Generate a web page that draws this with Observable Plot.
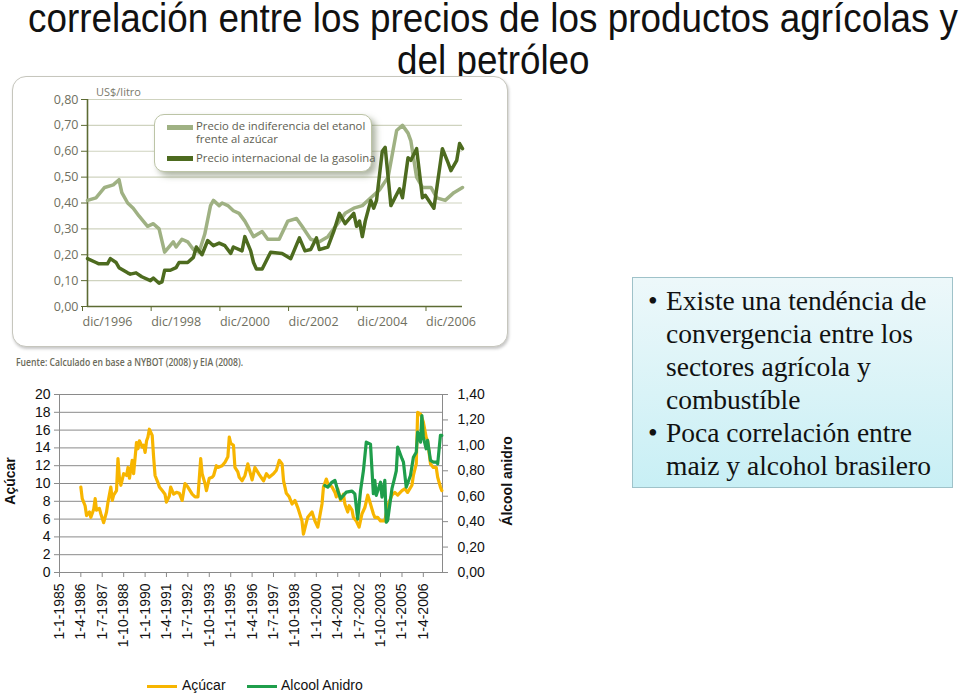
<!DOCTYPE html>
<html><head><meta charset="utf-8">
<script src="https://cdn.jsdelivr.net/npm/d3@7"></script>
<script src="https://cdn.jsdelivr.net/npm/@observablehq/plot@0.6"></script>
<style>
body{margin:0;background:#fff;}
#page{position:relative;width:960px;height:697px;overflow:hidden;font-family:"Liberation Sans",Arial,sans-serif;background:#fff;}
.abs{position:absolute;}
.tline{position:absolute;white-space:nowrap;font-size:40px;line-height:42px;color:#111;transform-origin:left top;}
#topbox{left:12px;top:76px;width:494px;height:269px;border:1.5px solid #c6c6bd;border-radius:14px;background:#fff;box-shadow:1px 2px 3px rgba(0,0,0,0.22);z-index:2;}
#topchart{left:0;top:80px;z-index:3;}
#unit{left:96px;top:84px;font-family:"Open Sans",sans-serif;font-size:11px;color:#7a7a6c;z-index:4;}
#leg1{left:154px;top:114px;width:216px;height:56px;border:1.5px solid #bcc4a6;border-radius:10px;background:#fff;box-shadow:4px 4px 6px rgba(105,118,85,0.55);z-index:4;font-family:"Open Sans",sans-serif;font-size:11.3px;color:#5e5e52;}
#leg1 .sw{position:absolute;left:12px;width:26px;height:5px;}
#leg1 .tx{position:absolute;left:41px;white-space:nowrap;line-height:13px;}
#source{left:16px;top:355px;font-family:"Open Sans",sans-serif;font-weight:600;font-size:10px;color:#6a6a5a;white-space:nowrap;transform-origin:left top;}
#botchart{left:0;top:380px;}
.vlab{position:absolute;font-weight:bold;font-size:14px;color:#111;white-space:nowrap;transform:translate(-50%,-50%) rotate(-90deg);}
#leg2{left:0;top:676px;width:600px;height:20px;font-size:14px;color:#111;}
#leg2 .sw{position:absolute;top:9px;width:30px;height:3px;}
#leg2 .tx{position:absolute;top:1px;white-space:nowrap;}
#note{left:632px;top:277px;width:319px;height:209px;border:1px solid #9fc2c9;background:linear-gradient(to bottom,#edf8fa 0%,#d9f3f7 55%,#c8eff5 100%);}
#note ul{list-style:none;margin:0;padding:6px 0 0 33px;font-family:"Liberation Serif","Times New Roman",serif;font-size:27.5px;line-height:33px;color:#111;}
#note li{position:relative;}
#note li::before{content:"•";position:absolute;left:-18px;}
</style></head><body>
<div id="page">
  <div class="tline" id="t1">correlación entre los precios de los productos agrícolas y</div>
  <div class="tline" id="t2">del petróleo</div>
  <div class="abs" id="topbox"></div>
  <div class="abs" id="topchart"></div>
  <div class="abs" id="unit">US$/litro</div>
  <div class="abs" id="leg1">
    <div class="sw" style="top:10px;background:#9fb183"></div>
    <div class="tx" style="top:4px">Precio de indiferencia del etanol<br>frente al azúcar</div>
    <div class="sw" style="top:41px;background:#4d6b1f"></div>
    <div class="tx" style="top:36px">Precio internacional de la gasolina</div>
  </div>
  <div class="abs" id="source">Fuente: Calculado en base a NYBOT (2008) y EIA (2008).</div>
  <div class="abs" id="botchart"></div>
  <div class="vlab" style="left:10px;top:481px">Açúcar</div>
  <div class="vlab" style="left:507px;top:481px">Álcool anidro</div>
  <div class="abs" id="leg2">
    <div class="sw" style="left:147px;background:#f7b500"></div>
    <div class="tx" style="left:182px">Açúcar</div>
    <div class="sw" style="left:247px;background:#1f9e4b"></div>
    <div class="tx" style="left:281px">Alcool Anidro</div>
  </div>
  <div class="abs" id="note">
    <ul>
      <li>Existe una tendéncia de<br>convergencia entre los<br>sectores agrícola y<br>combustíble</li>
      <li>Poca correlación entre<br>maiz y alcohol brasilero</li>
    </ul>
  </div>
</div>
<script>
// ---------- Upper chart data (US$/litro) ----------
const indiferenciaEtanol = [
 ["1996-12",0.41],["1997-03",0.42],["1997-06",0.46],["1997-09",0.47],["1997-11",0.49],["1997-12",0.44],
 ["1998-02",0.40],["1998-04",0.38],["1998-06",0.35],["1998-09",0.31],["1998-11",0.32],["1999-01",0.30],
 ["1999-03",0.21],["1999-06",0.25],["1999-07",0.23],["1999-09",0.26],["1999-11",0.25],["2000-01",0.22],
 ["2000-03",0.21],["2000-05",0.28],["2000-07",0.39],["2000-08",0.41],["2000-10",0.39],["2000-11",0.40],
 ["2001-01",0.39],["2001-03",0.37],["2001-05",0.36],["2001-07",0.33],["2001-10",0.27],["2002-01",0.29],
 ["2002-03",0.26],["2002-07",0.26],["2002-10",0.33],["2003-01",0.34],["2003-03",0.31],["2003-06",0.26],
 ["2003-09",0.25],["2003-12",0.27],["2004-02",0.30],["2004-06",0.36],["2004-09",0.38],["2004-12",0.39],
 ["2005-03",0.42],["2005-06",0.45],["2005-09",0.50],["2005-12",0.68],["2006-02",0.70],["2006-04",0.67],
 ["2006-05",0.64],["2006-07",0.50],["2006-09",0.46],["2006-12",0.46],["2007-02",0.42],["2007-05",0.41],
 ["2007-08",0.44],["2007-11",0.46]
];
const gasolinaInternacional = [
 ["1996-12",0.185],["1997-03",0.17],["1997-04",0.165],["1997-07",0.165],["1997-08",0.185],["1997-10",0.17],
 ["1997-11",0.15],["1998-02",0.13],["1998-03",0.125],["1998-05",0.13],["1998-07",0.115],["1998-10",0.10],
 ["1998-11",0.11],["1999-01",0.09],["1999-02",0.095],["1999-03",0.14],["1999-05",0.14],["1999-07",0.15],
 ["1999-08",0.17],["1999-11",0.17],["2000-01",0.19],["2000-02",0.23],["2000-04",0.20],["2000-06",0.255],
 ["2000-08",0.235],["2000-10",0.245],["2000-12",0.235],["2001-02",0.205],["2001-03",0.23],["2001-06",0.215],
 ["2001-07",0.27],["2001-09",0.215],["2001-10",0.17],["2001-11",0.145],["2002-01",0.145],["2002-04",0.21],
 ["2002-08",0.205],["2002-11",0.185],["2003-02",0.265],["2003-04",0.215],["2003-06",0.22],["2003-08",0.265],
 ["2003-09",0.22],["2003-12",0.23],["2004-02",0.29],["2004-04",0.36],["2004-06",0.32],["2004-09",0.36],
 ["2004-10",0.31],["2004-11",0.33],["2004-12",0.27],["2005-01",0.33],["2005-03",0.41],["2005-04",0.38],
 ["2005-05",0.41],["2005-07",0.60],["2005-08",0.615],["2005-10",0.39],["2006-01",0.455],["2006-02",0.42],
 ["2006-04",0.575],["2006-05",0.565],["2006-07",0.61],["2006-09",0.42],["2006-10",0.43],["2007-01",0.38],
 ["2007-04",0.61],["2007-06",0.555],["2007-07",0.525],["2007-09",0.565],["2007-10",0.63],["2007-11",0.61]
];
const topYTicks = [0,0.1,0.2,0.3,0.4,0.5,0.6,0.7,0.8];
const topXTicks = ["1996-12","1998-12","2000-12","2002-12","2004-12","2006-12"];
const topXLabels = ["dic/1996","dic/1998","dic/2000","dic/2002","dic/2004","dic/2006"];

// ---------- Lower chart data ----------
const acucar = [
 ["1986-04",9.6],["1986-05",8.3],["1986-07",7.5],["1986-08",6.4],["1986-10",6.8],["1986-11",6.2],["1987-01",7.1],
 ["1987-02",8.3],["1987-03",7.0],["1987-05",7.2],["1987-06",6.6],["1987-08",5.6],["1987-10",6.8],["1987-11",7.9],
 ["1988-01",9.6],["1988-02",8.1],["1988-03",8.7],["1988-05",9.2],["1988-06",12.8],["1988-07",10.7],["1988-08",9.8],
 ["1988-10",11.1],["1988-12",10.9],["1989-01",11.8],["1989-02",10.6],["1989-04",12.6],["1989-05",11.1],["1989-07",14.6],
 ["1989-08",13.9],["1989-09",14.8],["1989-11",14.1],["1989-12",14.3],["1990-01",13.5],["1990-02",14.8],["1990-03",15.2],
 ["1990-04",16.1],["1990-06",15.4],["1990-07",13.0],["1990-08",10.9],["1990-10",10.1],["1990-11",9.6],["1991-01",9.2],
 ["1991-03",8.8],["1991-04",7.9],["1991-06",8.6],["1991-07",9.6],["1991-09",8.8],["1991-11",9.0],["1992-01",8.9],
 ["1992-03",8.1],["1992-05",10.0],["1992-07",9.6],["1992-10",8.8],["1992-12",8.5],["1993-02",8.5],["1993-04",12.8],
 ["1993-05",11.1],["1993-07",10.0],["1993-08",9.2],["1993-10",10.6],["1993-12",10.7],["1994-01",10.9],["1994-03",12.0],
 ["1994-04",11.8],["1994-07",12.0],["1994-09",12.4],["1994-11",13.0],["1994-12",15.2],["1995-01",14.5],["1995-03",14.3],
 ["1995-04",11.8],["1995-06",11.3],["1995-07",10.7],["1995-09",10.3],["1995-11",10.9],["1996-01",12.2],["1996-03",11.0],
 ["1996-04",10.4],["1996-06",11.8],["1996-09",11.0],["1996-12",10.3],["1997-02",11.1],["1997-04",10.7],["1997-07",11.1],
 ["1997-09",11.5],["1997-11",12.6],["1998-01",12.2],["1998-02",10.3],["1998-04",8.9],["1998-06",8.5],["1998-08",7.7],
 ["1998-10",8.1],["1998-12",7.3],["1999-03",5.8],["1999-04",4.3],["1999-06",5.6],["1999-07",6.2],["1999-10",6.8],
 ["1999-12",5.8],["2000-02",5.1],["2000-05",7.7],["2000-06",9.6],["2000-08",10.5],["2000-09",10.0],["2000-12",9.6],
 ["2001-02",9.0],["2001-03",8.5],["2001-04",9.4],["2001-06",8.1],["2001-08",8.8],["2001-09",7.7],["2001-11",6.8],
 ["2001-12",7.5],["2002-02",7.0],["2002-03",6.2],["2002-05",5.8],["2002-07",5.1],["2002-09",6.6],["2002-11",7.3],
 ["2003-01",8.7],["2003-03",7.7],["2003-05",6.6],["2003-06",6.2],["2003-08",6.2],["2003-10",5.8],["2004-01",5.8],
 ["2004-03",7.5],["2004-06",8.7],["2004-08",9.0],["2004-10",8.7],["2005-01",9.2],["2005-03",9.4],["2005-05",9.0],
 ["2005-08",9.8],["2005-09",10.9],["2005-11",12.2],["2005-12",18.0],["2006-02",17.8],["2006-04",16.9],["2006-06",15.2],
 ["2006-07",14.8],["2006-09",12.2],["2006-11",11.8],["2007-01",11.8],["2007-02",10.7],["2007-04",9.6],["2007-05",9.2]
];
const alcoolAnidro = [
 ["2000-07",0.684],["2000-09",0.671],["2000-12",0.711],["2001-02",0.724],["2001-04",0.645],["2001-06",0.58],
 ["2001-08",0.606],["2001-10",0.632],["2002-02",0.64],["2002-04",0.619],["2002-06",0.42],["2002-08",0.645],
 ["2002-10",0.80],["2002-12",1.025],["2003-03",1.01],["2003-05",0.62],["2003-06",0.724],["2003-07",0.606],
 ["2003-10",0.71],["2003-11",0.593],["2004-01",0.724],["2004-02",0.396],["2004-03",0.409],["2004-06",0.659],
 ["2004-08",0.75],["2004-09",0.80],["2004-10",0.986],["2005-01",0.895],["2005-02",0.868],["2005-04",0.671],
 ["2005-07",0.763],["2005-09",0.907],["2005-11",0.946],["2005-12",1.104],["2006-02",1.025],["2006-03",1.235],
 ["2006-04",1.065],["2006-06",0.973],["2006-07",1.039],["2006-09",0.881],["2006-11",0.868],["2007-01",0.868],
 ["2007-02",0.855],["2007-04",1.078],["2007-05",1.078]
];
const acucarTicks = [0,2,4,6,8,10,12,14,16,18,20];
const alcoolTicks = [0,0.2,0.4,0.6,0.8,1.0,1.2,1.4];
const xTickLabels = ["1-1-1985","1-4-1986","1-7-1987","1-10-1988","1-1-1990","1-4-1991","1-7-1992","1-10-1993","1-1-1995",
 "1-4-1996","1-7-1997","1-10-1998","1-1-2000","1-4-2001","1-7-2002","1-10-2003","1-1-2005","1-4-2006"];

(function () {
const pm = d3.utcParse("%Y-%m");
const pd = d3.utcParse("%d-%m-%Y");
const comma = d => d.toFixed(2).replace(".", ",");

// ---------- Upper chart ----------
const olive = "#5d6b33";
const topLabelMap = new Map(topXTicks.map((m, i) => [+pm(m), topXLabels[i]]));
const etanol = indiferenciaEtanol.map(([m, v]) => ({date: pm(m), value: v}));
const gasolina = gasolinaInternacional.map(([m, v]) => ({date: pm(m), value: v}));
const upperPlot = Plot.plot({
  width: 520, height: 270,
  marginLeft: 87, marginRight: 58, marginTop: 19, marginBottom: 44,
  style: {background: "transparent", fontFamily: "'Open Sans', sans-serif", fontSize: "12.5px", color: "#6f6f60"},
  x: {type: "utc", domain: [pm("1996-12"), pm("2007-11")]},
  y: {domain: [0, 0.8]},
  marks: [
    Plot.gridY(topYTicks, {stroke: "#cfd3bf", strokeOpacity: 1, strokeWidth: 1.2}),
    Plot.axisY(topYTicks, {tickSize: 6, tickPadding: 3, tickFormat: comma, stroke: olive, label: null}),
    Plot.axisX(topXTicks.map(pm), {tickSize: 5, tickPadding: 6, tickFormat: d => topLabelMap.get(+d), textAnchor: "start", dx: -5, stroke: olive, label: null}),
    Plot.ruleX([pm("1996-12")], {y1: 0, y2: 0.8, stroke: olive, strokeWidth: 1.6}),
    Plot.ruleY([0], {stroke: olive, strokeWidth: 1.6}),
    Plot.line(etanol, {x: "date", y: "value", stroke: "#9fb183", strokeWidth: 3.5, strokeLinejoin: "round"}),
    Plot.line(gasolina, {x: "date", y: "value", stroke: "#4d6b1f", strokeWidth: 3.5, strokeLinejoin: "round"})
  ]
});
document.getElementById("topchart").append(upperPlot);

// ---------- Lower chart (dual axis) ----------
const k = 20 / 1.4; // Álcool anidro 1,40 aligns with Açúcar 20
const botLabelMap = new Map(xTickLabels.map(s => [+pd(s), s]));
const acu = acucar.map(([m, v]) => ({date: pm(m), value: v}));
const alc = alcoolAnidro.map(([m, v]) => ({date: pm(m), value: v}));
const grey = "#8a8a8a";
const lowerPlot = Plot.plot({
  width: 530, height: 290,
  marginLeft: 59, marginRight: 88, marginTop: 14, marginBottom: 98,
  style: {background: "transparent", fontFamily: "'Liberation Sans', Arial, sans-serif", fontSize: "14px", color: "#111"},
  x: {type: "utc", domain: [pm("1985-01"), new Date(Date.UTC(2007, 4, 15))]},
  y: {domain: [0, 20]},
  marks: [
    Plot.gridY(acucarTicks, {stroke: grey, strokeOpacity: 1}),
    Plot.frame({stroke: grey}),
    Plot.axisY(acucarTicks, {anchor: "left", tickSize: 5, tickPadding: 4, stroke: grey, label: null}),
    Plot.axisY(alcoolTicks.map(v => v * k), {anchor: "right", tickSize: 5, tickPadding: 10, stroke: grey, tickFormat: d => comma(d / k), label: null}),
    Plot.axisX(xTickLabels.map(pd), {tickSize: 5, tickPadding: 6, tickRotate: -90, stroke: grey, tickFormat: d => botLabelMap.get(+d), label: null}),
    Plot.line(acu, {x: "date", y: "value", stroke: "#f7b500", strokeWidth: 3.2, strokeLinejoin: "round"}),
    Plot.line(alc, {x: "date", y: d => d.value * k, stroke: "#1f9e4b", strokeWidth: 3.2, strokeLinejoin: "round"})
  ]
});
document.getElementById("botchart").append(lowerPlot);

// ---------- Fit title & source widths ----------
const t1 = document.getElementById("t1"), t2 = document.getElementById("t2");
const w1 = t1.getBoundingClientRect().width, w2 = t2.getBoundingClientRect().width;
const s = 930 / w1;
t1.style.left = "28px"; t1.style.top = "-3px"; t1.style.transform = `scaleX(${s})`;
t2.style.top = "39px"; t2.style.left = (493 - w2 * s / 2) + "px"; t2.style.transform = `scaleX(${s})`;
const src = document.getElementById("source");
src.style.transform = `scaleX(${227 / src.getBoundingClientRect().width})`;
})();
</script>
</body></html>
